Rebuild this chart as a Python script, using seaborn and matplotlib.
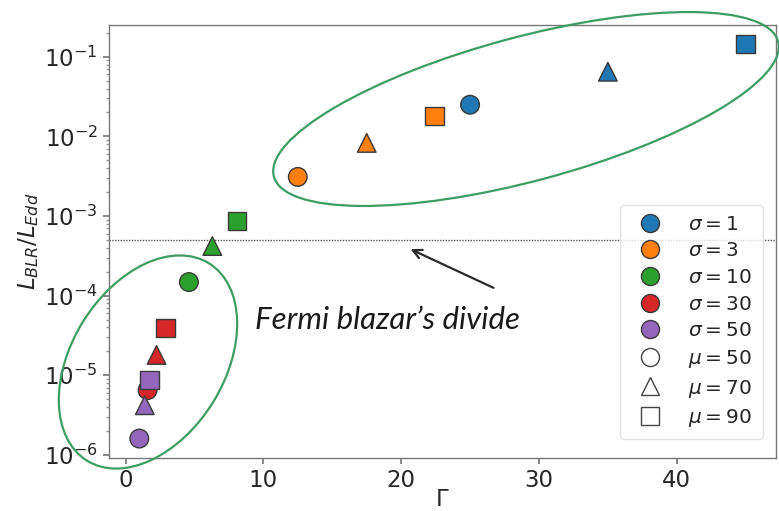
import matplotlib
matplotlib.use("Agg")
import matplotlib.pyplot as plt
from matplotlib.lines import Line2D
from matplotlib.patches import Ellipse
import numpy as np
import pandas as pd
import seaborn as sns

# Magnetization sigma and mu parameter for each run
sigma = [1, 1, 1, 3, 3, 3, 10, 10, 10, 30, 30, 30, 50, 50, 50]
mu = [50, 70, 90, 50, 70, 90, 50, 70, 90, 50, 70, 90, 50, 70, 90]
# Bulk Lorentz factor Gamma
gamma = [25.0, 35.0, 45.0, 12.5, 17.5, 22.4, 4.6, 6.3, 8.1, 1.6, 2.25, 2.9, 1.0, 1.4, 1.75]
# BLR luminosity in Eddington units
l_blr = [2.5e-2, 6.5e-2, 1.45e-1, 3.1e-3, 8.3e-3, 1.8e-2, 1.48e-4, 4.2e-4, 8.7e-4,
         6.5e-6, 1.8e-5, 3.9e-5, 1.6e-6, 4.2e-6, 8.7e-6]

sigma_levels = [1, 3, 10, 30, 50]
mu_levels = [50, 70, 90]
mu_markers = {50: "o", 70: "^", 90: "s"}
divide = 5e-4

df = pd.DataFrame({"sigma": sigma, "mu": mu, "Gamma": gamma, "L": l_blr})

sns.set_theme(style="white")
plt.rcParams["font.family"] = ["DejaVu Sans"]
plt.rcParams["mathtext.fontset"] = "dejavusans"

W, H = 779, 511
fig = plt.figure(figsize=(W / 100, H / 100), dpi=100)
ax = fig.add_axes([109 / W, 1 - 458 / H, (776 - 109) / W, (458 - 25) / H])

palette = dict(zip(sigma_levels, sns.color_palette("tab10", 5)))
sns.scatterplot(data=df, x="Gamma", y="L", hue="sigma", style="mu",
                palette=palette, markers=mu_markers, s=180,
                edgecolor="#3a3a3a", linewidth=1.0, legend=False, ax=ax, zorder=3)

ax.set_yscale("log")
ax.set_xlim(-1.2, 47.2)
ax.set_ylim(10 ** -6.04, 10 ** -0.6)
ax.set_xticks([0, 10, 20, 30, 40])
ax.axhline(divide, color="#555555", lw=1.0, ls=(0, (1, 1)), zorder=1)

for side in ax.spines.values():
    side.set_color("#777777")
    side.set_linewidth(1.0)
ax.tick_params(axis="both", which="major", labelsize=16.5, length=4, color="#777777",
               left=True, bottom=True, pad=4)
ax.tick_params(axis="y", which="minor", length=2, color="#999999", left=True)

ax.set_xlabel(r"$\Gamma$", fontsize=16.5, labelpad=-3)
ax.set_ylabel(r"$L_{BLR}/L_{Edd}$", fontsize=16.5, labelpad=2)

# Legend: colours for sigma, marker shapes for mu
handles = []
for s in sigma_levels:
    handles.append(Line2D([], [], ls="none", marker="o", markersize=13,
                          markerfacecolor=palette[s], markeredgecolor="#3a3a3a",
                          label=rf"$\sigma = {s}$"))
for m in mu_levels:
    handles.append(Line2D([], [], ls="none", marker=mu_markers[m], markersize=13,
                          markerfacecolor="white", markeredgecolor="#444444",
                          label=rf"$\mu = {m}$"))
leg = ax.legend(handles=handles, loc="lower right", fontsize=14.5, frameon=True,
                labelspacing=0.38, handletextpad=0.9, borderpad=0.5,
                bbox_to_anchor=(0.995, 0.02))
leg.get_frame().set_edgecolor("#dddddd")

# Annotation of the Fermi blazar's divide
ax.annotate("", xy=(408 / W, 1 - 248 / H), xycoords="figure fraction",
            xytext=(496 / W, 1 - 289 / H), textcoords="figure fraction",
            arrowprops=dict(arrowstyle="->", color="#2a2a2a", lw=1.6, mutation_scale=16))
fig.text(255 / W, 1 - 320 / H, "Fermi blazar’s divide", fontsize=22.5,
         family=["Lato", "DejaVu Sans"], style="italic",
         va="center", ha="left", color="#1a1a1a")

# Ellipses grouping the high- and low-Gamma runs (sizes in inches)
green = "#3d9d63"
for cx, cy, w, h, ang in [(526, 109, 522, 144, 15.0), (148, 362, 232, 153, 58.3)]:
    e = Ellipse((cx / 100, (H - cy) / 100), w / 100, h / 100, angle=ang,
                transform=fig.dpi_scale_trans, fill=False, edgecolor=green,
                lw=1.6, clip_on=False, zorder=5)
    fig.add_artist(e)

fig.savefig("out.png", dpi=100)
